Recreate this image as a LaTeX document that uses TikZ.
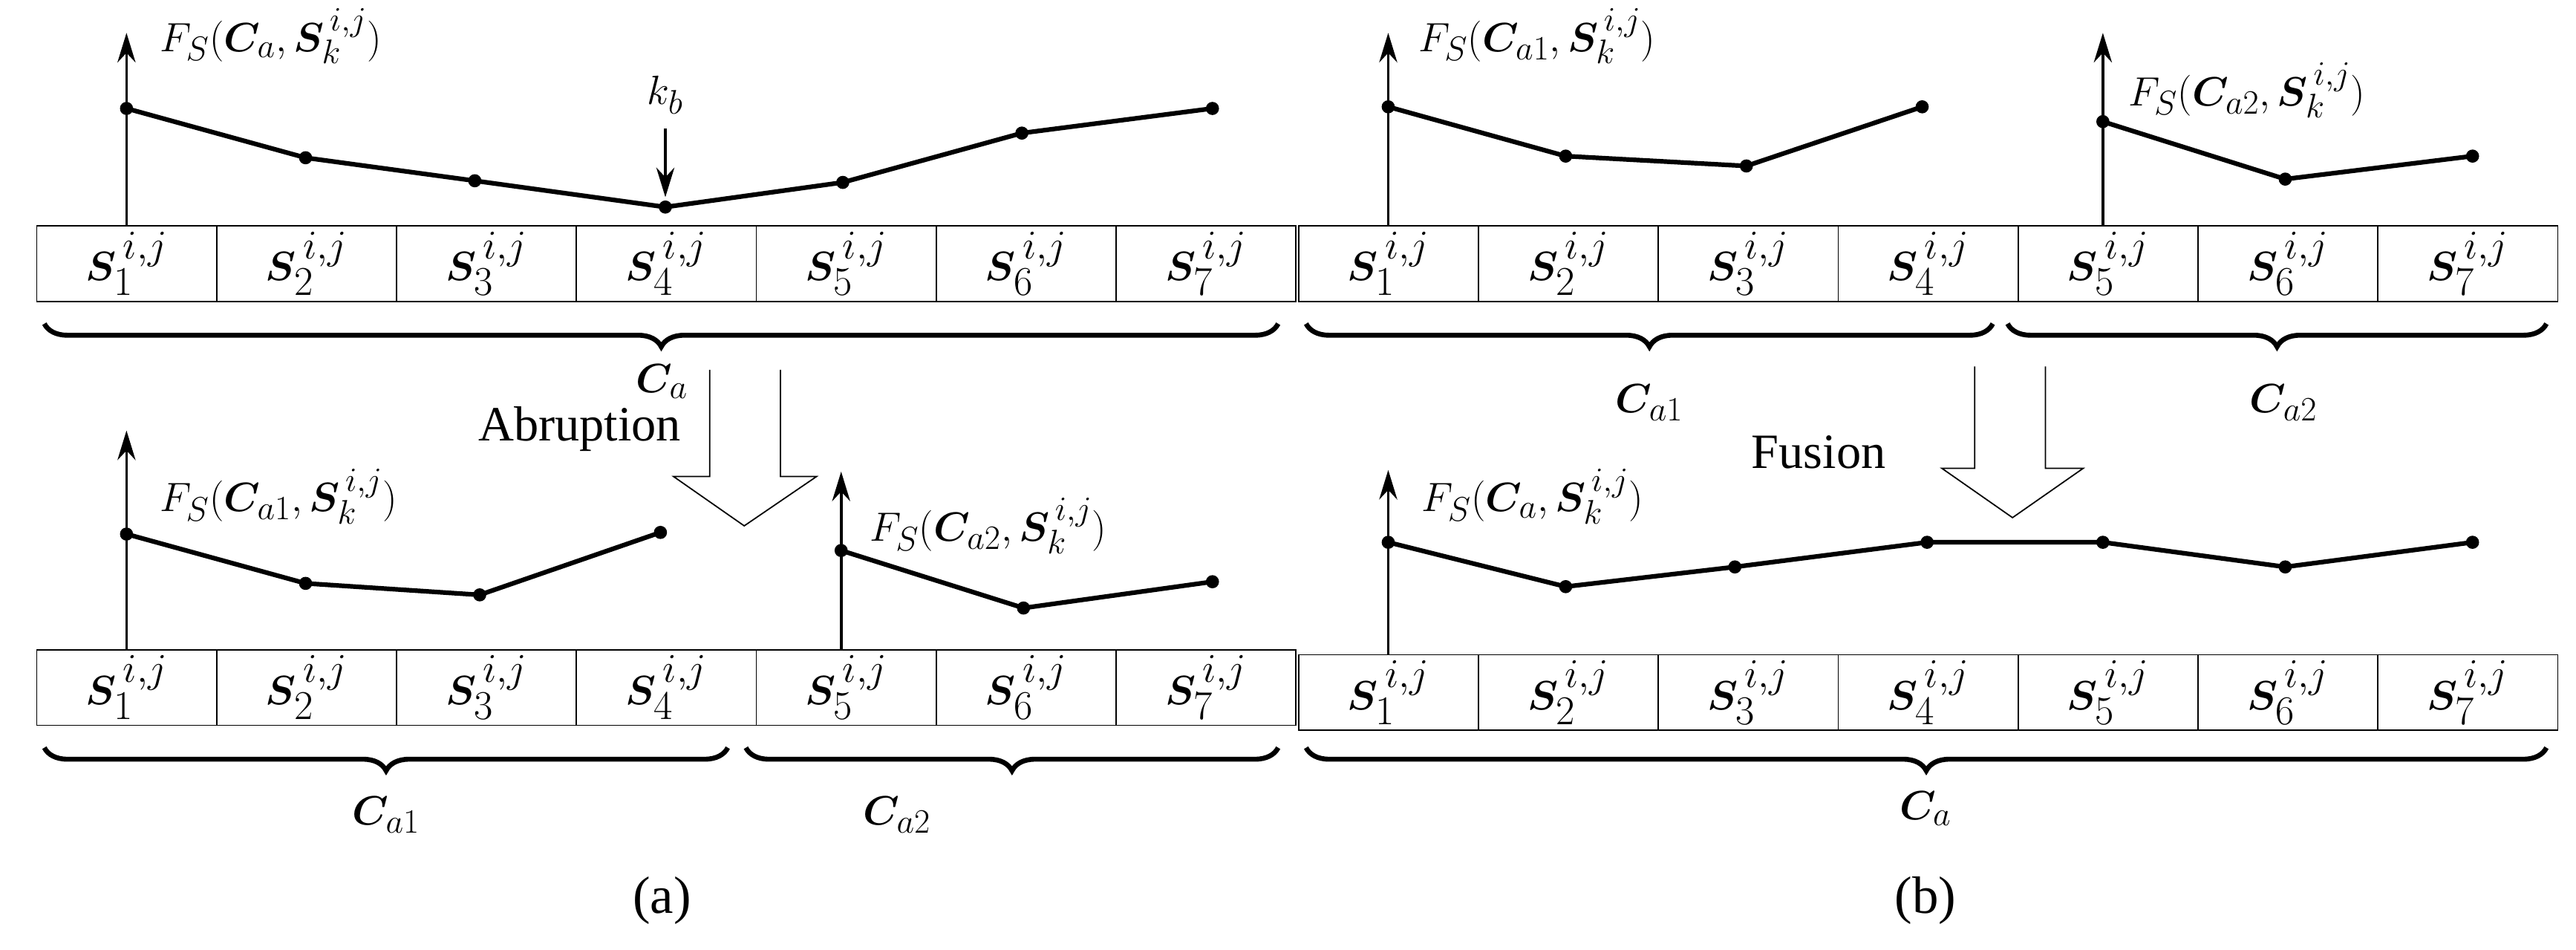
\documentclass[tikz,border=0pt]{standalone}
\usepackage{bm}
\usepackage{fontspec}
\setmainfont{Liberation Serif}
\usetikzlibrary{decorations.pathreplacing,arrows.meta}
\begin{document}
\begin{tikzpicture}[x=1pt,y=-1pt,
  cell/.style={draw,line width=0.8pt,minimum width=109.5pt,minimum height=46pt,inner sep=0pt,anchor=north west,font=\fontsize{36}{36}\selectfont},
  curve/.style={line width=2.8pt},
  dot/.style={circle,fill=black,inner sep=0pt,minimum size=8pt},
  axis/.style={line width=1.6pt,-{Stealth[length=18pt,width=11pt]}},
  br/.style={decorate,decoration={brace,mirror,amplitude=14pt},line width=3pt},
  lab/.style={font=\fontsize{28}{28}\selectfont,anchor=west},
  clab/.style={font=\fontsize{32}{32}\selectfont},
  hollow/.style={line width=0.8pt}]
\useasboundingbox (0,0) rectangle (1568,578);
% cell rows
\foreach \r/\x/\y in {A/22/137,B/22/395,C/790/137,D/790/398}{
  \foreach \i in {1,...,7}{
    \node[cell] (\r\i) at ({\x+(\i-1)*109.5},\y) {$\bm{S}_{\i}^{\,i,j}$};
  }
}
% --- (a) top graph
\foreach \n/\x/\y in {1/77/66,2/186/96,3/289/110,4/405/126,5/513/111,6/622/81,7/738/66}{\coordinate (a\n) at (\x,\y);}
\draw[axis] (77,137) -- (77,20);
\draw[curve] (a1)--(a2)--(a3)--(a4)--(a5)--(a6)--(a7);
\foreach \n in {1,...,7}{\node[dot] at (a\n) {};}
\node[lab] (fa) at (94,22) {$F_S(\bm{C}_a,\bm{S}_k^{\,i,j})$};
\node[font=\fontsize{28}{28}\selectfont] (kb) at (405,58) {$k_b$};
\draw[line width=1.6pt,-{Stealth[length=18pt,width=11pt]}] (405,78) -- (405,120);
\draw[br] (27,197) -- (778,197);
\node[clab] (ca) at (403,232) {$\bm{C}_a$};
\node[font=\fontsize{30}{30}\selectfont,anchor=east] (abr) at (418,261) {Abruption};
\draw[hollow] (432,225)--(432,290)--(410,290)--(453,320)--(497,290)--(475,290)--(475,225);
% --- (a) bottom graphs
\foreach \n/\x/\y in {1/77/325,2/186/355,3/292/362,4/402/324}{\coordinate (b\n) at (\x,\y);}
\draw[axis] (77,395) -- (77,262);
\draw[curve] (b1)--(b2)--(b3)--(b4);
\foreach \n in {1,...,4}{\node[dot] at (b\n) {};}
\node[lab] (fb1) at (94,302) {$F_S(\bm{C}_{a1},\bm{S}_k^{\,i,j})$};
\foreach \n/\x/\y in {5/512/335,6/623/370,7/738/354}{\coordinate (b\n) at (\x,\y);}
\draw[axis] (512,395) -- (512,287);
\draw[curve] (b5)--(b6)--(b7);
\foreach \n in {5,6,7}{\node[dot] at (b\n) {};}
\node[lab] (fb2) at (526,320) {$F_S(\bm{C}_{a2},\bm{S}_k^{\,i,j})$};
\draw[br] (27,455) -- (443,455);
\draw[br] (454,455) -- (778,455);
\node[clab] (ca1) at (235,496) {$\bm{C}_{a1}$};
\node[clab] (ca2) at (546,496) {$\bm{C}_{a2}$};
\node[font=\fontsize{32}{32}\selectfont] (la) at (403,548) {(a)};
% --- (b) top graphs
\foreach \n/\x/\y in {1/845/65,2/953/95,3/1063/101,4/1170/65}{\coordinate (c\n) at (\x,\y);}
\draw[axis] (845,137) -- (845,20);
\draw[curve] (c1)--(c2)--(c3)--(c4);
\foreach \n in {1,...,4}{\node[dot] at (c\n) {};}
\node[lab] (fc1) at (860,22) {$F_S(\bm{C}_{a1},\bm{S}_k^{\,i,j})$};
\foreach \n/\x/\y in {5/1280/74,6/1391/109,7/1505/95}{\coordinate (c\n) at (\x,\y);}
\draw[axis] (1280,137) -- (1280,20);
\draw[curve] (c5)--(c6)--(c7);
\foreach \n in {5,6,7}{\node[dot] at (c\n) {};}
\node[lab] (fc2) at (1292,55) {$F_S(\bm{C}_{a2},\bm{S}_k^{\,i,j})$};
\draw[br] (795,197) -- (1213,197);
\draw[br] (1222,197) -- (1550,197);
\node[clab] (cb1) at (1004,245) {$\bm{C}_{a1}$};
\node[clab] (cb2) at (1390,245) {$\bm{C}_{a2}$};
\node[font=\fontsize{30}{30}\selectfont] (fus) at (1107,275) {Fusion};
\draw[hollow] (1202,223)--(1202,285)--(1182,285)--(1225,315)--(1268,285)--(1245,285)--(1245,223);
% --- (b) bottom graph
\foreach \n/\x/\y in {1/845/330,2/953/357,3/1056/345,4/1173/330,5/1280/330,6/1391/345,7/1505/330}{\coordinate (d\n) at (\x,\y);}
\draw[axis] (845,398) -- (845,286);
\draw[curve] (d1)--(d2)--(d3)--(d4)--(d5)--(d6)--(d7);
\foreach \n in {1,...,7}{\node[dot] at (d\n) {};}
\node[lab] (fd) at (862,302) {$F_S(\bm{C}_a,\bm{S}_k^{\,i,j})$};
\draw[br] (795,455) -- (1550,455);
\node[clab] (cd) at (1172,492) {$\bm{C}_a$};
\node[font=\fontsize{32}{32}\selectfont] (lb) at (1172,548) {(b)};
\end{tikzpicture}
\end{document}
